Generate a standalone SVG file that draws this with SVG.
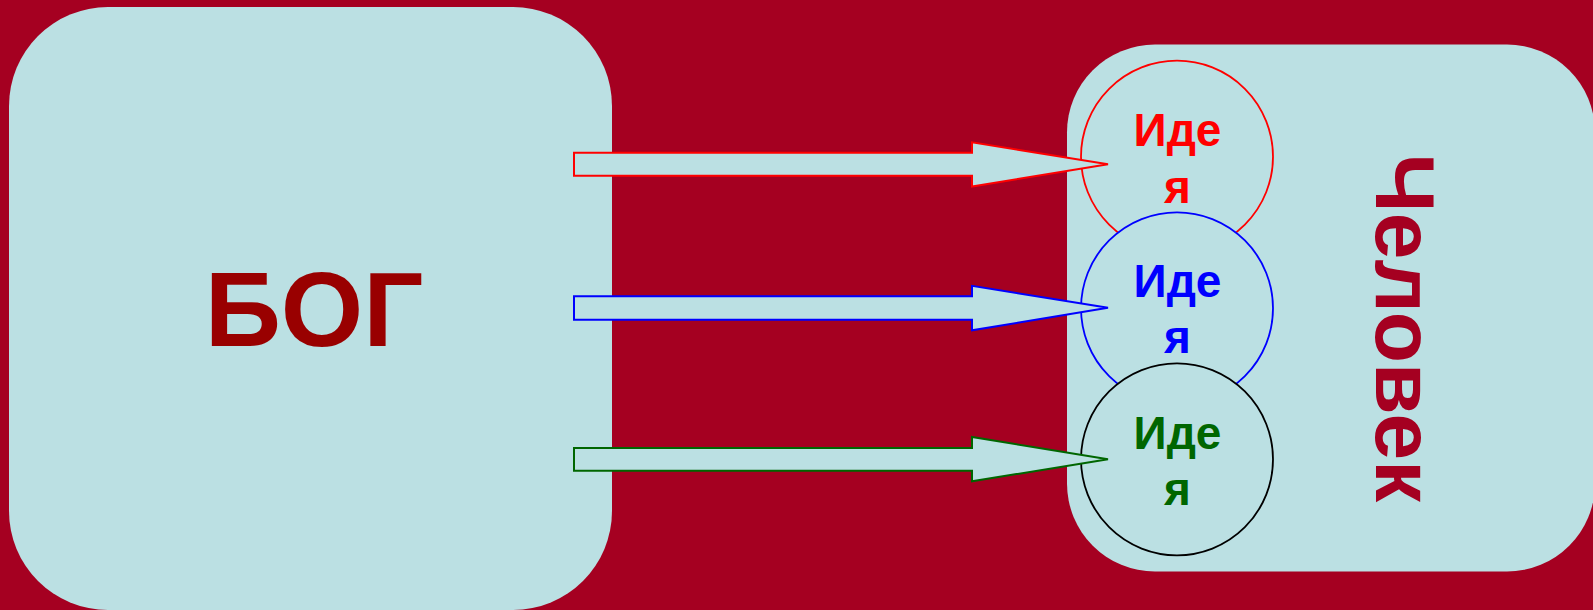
<svg xmlns="http://www.w3.org/2000/svg" width="1593" height="610" viewBox="0 0 1593 610">
<style>
.box{fill:#BBE0E3;}
.lbl{font-family:"Liberation Sans",Arial,sans-serif;font-weight:bold;}
.idea{fill:#BBE0E3;stroke-width:1.8;}
.itxt{font-family:"Liberation Sans",Arial,sans-serif;font-weight:bold;font-size:46px;text-anchor:middle;}
.arr{fill:#BBE0E3;stroke-width:2;stroke-linejoin:miter;}
</style>
<rect x="0" y="0" width="1593" height="610" fill="#A50021"/>
<g id="god">
<rect class="box" x="9" y="7" width="603" height="603" rx="99" ry="99"/>
<text class="lbl" x="314" y="346" font-size="106" fill="#990000" text-anchor="middle">БОГ</text>
</g>
<g id="human">
<rect class="box" x="1067" y="44.5" width="528" height="527" rx="88" ry="88"/>
<text class="lbl" transform="translate(1376,328) rotate(90)" x="0" y="0" font-size="84" fill="#A50021" text-anchor="middle">Человек</text>
</g>
<g id="idea-red">
<circle class="idea" cx="1177" cy="156.7" r="96" stroke="#FF0000"/>
<text class="itxt" x="1177.5" y="146" fill="#FF0000">Иде</text>
<text class="itxt" x="1177.5" y="202.7" fill="#FF0000">я</text>
</g>
<g id="idea-blue">
<circle class="idea" cx="1177" cy="308.3" r="96" stroke="#0000FF"/>
<text class="itxt" x="1177.5" y="297" fill="#0000FF">Иде</text>
<text class="itxt" x="1177.5" y="353.3" fill="#0000FF">я</text>
</g>
<g id="idea-green">
<circle class="idea" cx="1177" cy="459.3" r="96" stroke="#000000"/>
<text class="itxt" x="1177.5" y="449.3" fill="#006600">Иде</text>
<text class="itxt" x="1177.5" y="505.3" fill="#006600">я</text>
</g>
<g id="connectors">
<polygon class="arr" stroke="#FF0000" points="574,152.8 972,152.8 972,142.3 1108,164.3 972,186.5 972,175.8 574,175.8"/>
<polygon class="arr" stroke="#0000FF" points="574,296.3 972,296.3 972,285.8 1108,307.8 972,330.3 972,319.8 574,319.8"/>
<polygon class="arr" stroke="#006600" points="574,448 972,448 972,437 1108,459.3 972,481.3 972,470.7 574,470.7"/>
</g>
</svg>
